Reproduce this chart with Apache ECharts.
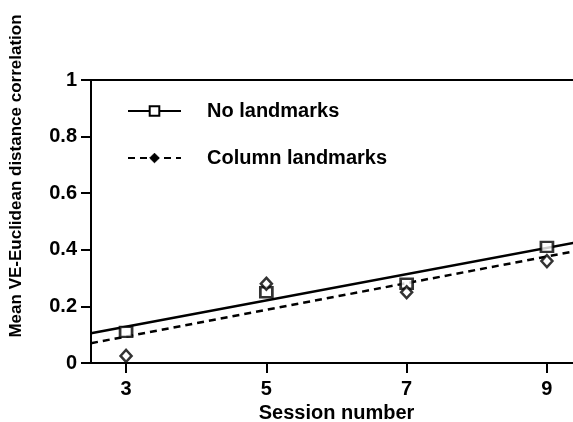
<!DOCTYPE html>
<html>
<head>
<meta charset="utf-8">
<script src="https://cdn.jsdelivr.net/npm/echarts@6/dist/echarts.min.js"></script>
<style>html,body{margin:0;padding:0;background:#fff;}#c{width:573px;height:422px;}</style>
</head>
<body>
<div id="c"></div>
<script>
var sessionTicks = [3, 5, 7, 9];
var yTicks = [0, 0.2, 0.4, 0.6, 0.8, 1];
var seriesNames = ['No landmarks', 'Column landmarks'];
var noLandmarks = [[3, 0.11], [5, 0.25], [7, 0.28], [9, 0.41]];
var columnLandmarks = [[3, 0.025], [5, 0.28], [7, 0.25], [9, 0.36]];
var noLandmarksFit = [[2.5, 0.105], [9.5, 0.43]];
var columnLandmarksFit = [[2.5, 0.07], [9.5, 0.40]];
var xTitle = 'Session number';
var yTitle = 'Mean VE-Euclidean distance correlation';

var FONT = 'Liberation Sans, Arial, sans-serif';
var chart = echarts.init(document.getElementById('c'), null, {renderer: 'canvas'});
chart.setOption({
  backgroundColor: '#fff',
  animation: false,
  grid: {left: 91, right: -9, top: 80, bottom: 59, show: true, borderColor: '#000', borderWidth: 2,
    backgroundColor: 'transparent', containLabel: false, outerBoundsMode: 'none'},
  legend: {
    orient: 'vertical', left: 122, top: 96,
    data: [
      {name: seriesNames[0], itemStyle: {color: '#fff', borderColor: '#000', borderWidth: 2}},
      {name: seriesNames[1], itemStyle: {color: '#000', borderColor: '#000', borderWidth: 1}}
    ],
    itemWidth: 53, itemHeight: 12, itemGap: 27,
    textStyle: {fontFamily: FONT, fontWeight: 'bold', fontSize: 20, color: '#000', padding: [0, 0, 0, 21]},
    selectedMode: false
  },
  xAxis: {
    type: 'value', min: 2.5, max: 9.5,
    name: xTitle, nameLocation: 'middle', nameGap: 36,
    nameTextStyle: {fontFamily: FONT, fontWeight: 'bold', fontSize: 20, color: '#000'},
    splitLine: {show: false},
    axisLine: {show: true, onZero: false, lineStyle: {color: '#000', width: 2}},
    axisTick: {show: true, length: 10, lineStyle: {color: '#000', width: 2}, customValues: sessionTicks},
    axisLabel: {fontFamily: FONT, fontWeight: 'bold', fontSize: 20, color: '#000', margin: 16, customValues: sessionTicks}
  },
  yAxis: {
    type: 'value', min: 0, max: 1, interval: 0.2,
    splitLine: {show: false},
    axisLine: {show: true, lineStyle: {color: '#000', width: 2}},
    axisTick: {show: true, length: 10, lineStyle: {color: '#000', width: 2}},
    axisLabel: {fontFamily: FONT, fontWeight: 'bold', fontSize: 20, color: '#000', margin: 14,
      formatter: function (v) { return String(Math.round(v * 10) / 10); }}
  },
  graphic: [{
    type: 'text', x: 16, y: 176, rotation: Math.PI / 2,
    style: {text: yTitle, fontFamily: FONT, fontWeight: 'bold', fontSize: 17, fill: '#000', align: 'center', verticalAlign: 'middle'}
  }],
  series: [
    {
      name: seriesNames[0], type: 'line', data: noLandmarksFit,
      symbol: 'rect', symbolSize: [12, 10], showSymbol: false,
      lineStyle: {color: '#000', width: 2.5, type: 'solid'},
      itemStyle: {color: '#fff', borderColor: '#000', borderWidth: 2},
      z: 3
    },
    {
      name: seriesNames[1], type: 'line', data: columnLandmarksFit,
      symbol: 'diamond', symbolSize: [11, 11], showSymbol: false,
      lineStyle: {color: '#000', width: 2.5, type: [7, 5]},
      itemStyle: {color: '#000', borderColor: '#000', borderWidth: 1},
      z: 3
    },
    {
      name: 'noScatter', type: 'scatter', data: noLandmarks,
      symbol: 'rect', symbolSize: [12, 10],
      itemStyle: {color: '#fff', borderColor: '#000', borderWidth: 2.5},
      z: 4
    },
    {
      name: 'colScatter', type: 'scatter', data: columnLandmarks,
      symbol: 'diamond', symbolSize: [11, 12],
      itemStyle: {color: '#fff', borderColor: '#000', borderWidth: 2.5},
      z: 4
    }
  ]
});
</script>
</body>
</html>
